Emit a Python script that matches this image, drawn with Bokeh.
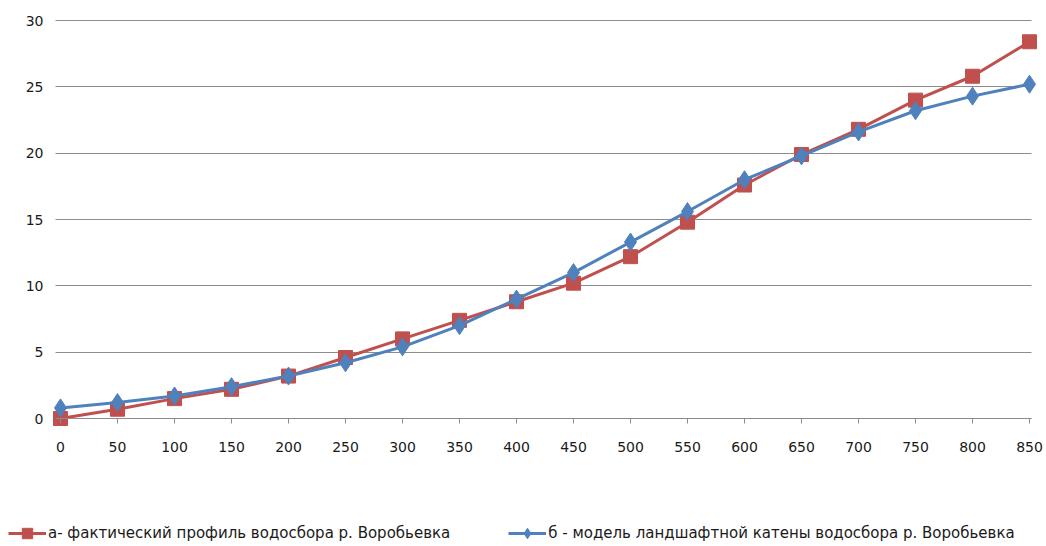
from bokeh.plotting import figure
from bokeh.models import Legend, LegendItem, FixedTicker, LinearAxis
from bokeh.embed import file_html
from bokeh.resources import INLINE

categories = [0, 50, 100, 150, 200, 250, 300, 350, 400, 450, 500, 550, 600, 650, 700, 750, 800, 850]
series_a = [0.0, 0.7, 1.5, 2.2, 3.2, 4.6, 6.0, 7.4, 8.8, 10.2, 12.2, 14.8, 17.6, 19.9, 21.8, 24.0, 25.8, 28.4]
series_b = [0.8, 1.2, 1.7, 2.4, 3.2, 4.2, 5.4, 7.0, 9.0, 11.0, 13.3, 15.6, 18.0, 19.8, 21.6, 23.2, 24.3, 25.2]
y_ticks = [0, 5, 10, 15, 20, 25, 30]
label_a = "а- фактический профиль водосбора р. Воробьевка"
label_b = "б - модель ландшафтной катены водосбора р. Воробьевка"

RED = "#C0504D"
BLUE = "#4F81BD"
GRID = "#8c8c8c"
FONT = "DejaVu Sans"
TXT = "#1a1a1a"

p = figure(width=1046, height=546, output_backend="svg", toolbar_location=None,
           x_range=(-52.63, 864.9), y_range=(-9.648, 31.51),
           x_axis_location=None, y_axis_location=None,
           min_border=0)
p.outline_line_color = None
p.background_fill_color = "white"

p.xgrid.grid_line_color = None
p.ygrid.grid_line_color = GRID
p.ygrid.grid_line_width = 1
p.ygrid.ticker = FixedTicker(ticks=y_ticks)
p.ygrid.cross_bounds = (-4.4, 851.8)

xaxis = LinearAxis(fixed_location=0, bounds=(-4.4, 851.8), ticker=FixedTicker(ticks=categories),
                   axis_line_color=GRID, major_tick_line_color=GRID, major_tick_in=0, major_tick_out=5,
                   minor_tick_line_color=None, major_label_text_font=FONT,
                   major_label_text_font_size="14px", major_label_text_color=TXT,
                   major_label_standoff=18)
p.add_layout(xaxis, "below")

yaxis = LinearAxis(fixed_location=-4.4, bounds=(0, 30), ticker=FixedTicker(ticks=y_ticks),
                   axis_line_color=None, major_tick_line_color=None, minor_tick_line_color=None,
                   major_tick_in=0, major_tick_out=0,
                   major_label_text_font=FONT, major_label_text_font_size="14px",
                   major_label_text_color=TXT, major_label_standoff=12)
p.add_layout(yaxis, "left")

la = p.line(categories, series_a, line_color=RED, line_width=3)
ma = p.scatter(categories, series_a, marker="square", size=14, fill_color=RED, line_color=RED)
lb = p.line(categories, series_b, line_color=BLUE, line_width=3)
mb = p.scatter(categories, series_b, marker="diamond", size=18, fill_color=BLUE, line_color=BLUE)

legend = Legend(items=[LegendItem(label=label_a, renderers=[la, ma]),
                       LegendItem(label=label_b, renderers=[lb, mb])],
                orientation="horizontal", location=(8, 0),
                label_text_font=FONT, label_text_font_size="15px", label_text_color=TXT,
                glyph_width=38, glyph_height=26, label_standoff=2, spacing=58,
                border_line_color=None, background_fill_alpha=0, margin=0, padding=0)
p.add_layout(legend, "center")

open("out.html", "w").write(file_html(p, INLINE))
